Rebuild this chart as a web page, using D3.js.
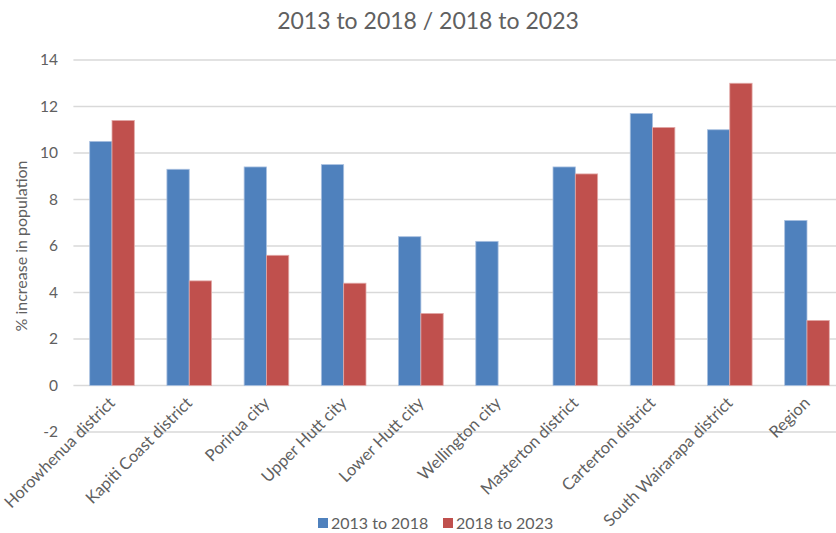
<!DOCTYPE html>
<html>
<head>
<meta charset="utf-8">
<script src="https://cdn.jsdelivr.net/npm/d3@7"></script>
<style>
  html, body { margin: 0; padding: 0; background: #fff; }
  svg { display: block; font-family: Lato, "Open Sans", sans-serif; }
</style>
</head>
<body>
<svg id="chart" width="836" height="533"></svg>
<script>
// Population growth by territorial authority, Wellington region
const categories = [
  "Horowhenua district", "Kapiti Coast district", "Porirua city", "Upper Hutt city",
  "Lower Hutt city", "Wellington city", "Masterton district", "Carterton district",
  "South Wairarapa district", "Region"
];
const seriesNames = ["2013 to 2018", "2018 to 2023"];
const values2013to2018 = [10.5, 9.3, 9.4, 9.5, 6.4, 6.2, 9.4, 11.7, 11.0, 7.1];
const values2018to2023 = [11.4, 4.5, 5.6, 4.4, 3.1, 0, 9.1, 11.1, 13.0, 2.8];
const yTicks = [-2, 0, 2, 4, 6, 8, 10, 12, 14];
const colors = ["#4F81BD", "#C0504D"];

const svg = d3.select("#chart");
const textColor = "#606060";

// Plot area
const plotLeft = 73.4, plotRight = 845.6, plotTop = 60, plotBottom = 432;

const y = d3.scaleLinear().domain([-2, 14]).range([plotBottom, plotTop]);
const x = d3.scaleBand().domain(categories).range([plotLeft, plotRight])
  .paddingInner(0.422).paddingOuter(0.211);
const xs = d3.scaleBand().domain(seriesNames).range([0, x.bandwidth()]);

// Gridlines
svg.append("g").selectAll("line").data(yTicks).join("line")
  .attr("x1", plotLeft).attr("x2", 836)
  .attr("y1", d => y(d)).attr("y2", d => y(d))
  .attr("stroke", "#D9D9D9").attr("stroke-width", 1.5);

// Y tick labels
svg.append("g").selectAll("text").data(yTicks).join("text")
  .attr("x", 58).attr("y", d => y(d)).attr("dy", "0.35em")
  .attr("text-anchor", "end").attr("font-size", 15.5).attr("fill", textColor)
  .text(d => d);

// Bars
const rows = categories.map((c, i) => ({ c, v: [values2013to2018[i], values2018to2023[i]] }));
const groups = svg.append("g").selectAll("g").data(rows).join("g")
  .attr("transform", d => `translate(${x(d.c)},0)`);
groups.selectAll("rect")
  .data(d => d.v.map((v, k) => ({ s: seriesNames[k], v, k })).filter(e => e.v !== 0))
  .join("rect")
  .attr("x", d => xs(d.s))
  .attr("width", xs.bandwidth())
  .attr("y", d => y(Math.max(0, d.v)))
  .attr("height", d => Math.abs(y(d.v) - y(0)))
  .attr("fill", d => colors[d.k])
  .attr("stroke", d => d.k === 0 ? "#A9C0E0" : "#E2A9A7")
  .attr("stroke-width", 0.8);

// Category labels, rotated
svg.append("g").selectAll("text").data(categories).join("text")
  .attr("transform", d => `translate(${x(d) + x.bandwidth() / 2 + 4},${404}) rotate(-45)`)
  .attr("text-anchor", "end").attr("font-size", 16.5).attr("fill", textColor)
  .text(d => d);

// Y axis title
svg.append("text")
  .attr("transform", `translate(27,${y(6)}) rotate(-90)`)
  .attr("text-anchor", "middle").attr("font-size", 16).attr("fill", textColor)
  .text("% increase in population");

// Chart title
svg.append("text")
  .attr("x", 428).attr("y", 29)
  .attr("text-anchor", "middle").attr("font-size", 23).attr("fill", textColor)
  .text("2013 to 2018 / 2018 to 2023");

// Legend
const legend = svg.append("g").attr("transform", "translate(318,523)");
const legendX = [0, 125];
seriesNames.forEach((name, k) => {
  const g = legend.append("g").attr("transform", `translate(${legendX[k]},0)`);
  g.append("rect").attr("x", 0).attr("y", -5).attr("width", 10).attr("height", 10)
    .attr("fill", colors[k]);
  g.append("text").attr("x", 13).attr("y", 0).attr("dy", "0.35em")
    .attr("font-size", 16).attr("fill", textColor).text(name);
});
</script>
</body>
</html>
